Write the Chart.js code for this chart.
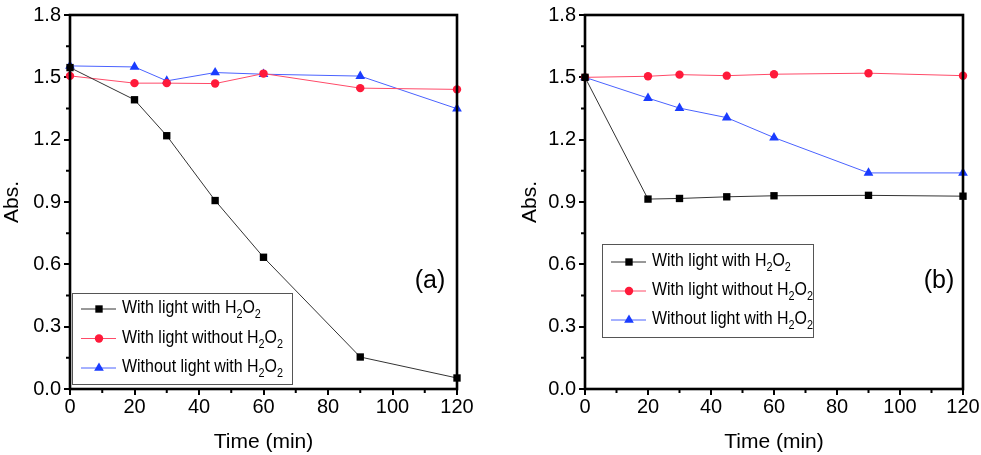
<!DOCTYPE html>
<html>
<head>
<meta charset="utf-8">
<script src="https://cdn.jsdelivr.net/npm/chart.js@4.4.1/dist/chart.umd.min.js"></script>
<style>
  body { margin: 0; background: #fff; }
  #wrap { position: relative; width: 981px; height: 455px; overflow: hidden; }
  canvas { position: absolute; top: 0; }
</style>
</head>
<body>
<div id="wrap">
  <canvas id="chartA" width="490" height="455" style="left:0"></canvas>
  <canvas id="chartB" width="491" height="455" style="left:490px"></canvas>
</div>
<script>
// time points (min)
const times = [0, 20, 30, 45, 60, 90, 120]

// panel (a)
const a_lightH2O2   = [1.547, 1.392, 1.219, 0.907, 0.634, 0.154, 0.053]
const a_lightNoH2O2 = [1.507, 1.472, 1.472, 1.470, 1.518, 1.448, 1.442]
const a_darkH2O2    = [1.555, 1.550, 1.483, 1.523, 1.515, 1.506, 1.349]

// panel (b)
const b_lightH2O2   = [1.500, 0.914, 0.917, 0.925, 0.930, 0.932, 0.928]
const b_lightNoH2O2 = [1.500, 1.505, 1.513, 1.508, 1.515, 1.520, 1.508]
const b_darkH2O2    = [1.500, 1.400, 1.352, 1.306, 1.210, 1.040, 1.040]

const seriesNames = ['With light with H₂O₂', 'With light without H₂O₂', 'Without light with H₂O₂']
const xTicks = [0, 20, 40, 60, 80, 100, 120]
const yTicks = [0, 0.3, 0.6, 0.9, 1.2, 1.5, 1.8]
const xMinor = [10, 30, 50, 70, 90, 110]
const yMinor = [0.15, 0.45, 0.75, 1.05, 1.35, 1.65]

const styles = [
    { line: '#333333', point: '#000000', shape: 'rect', r: 5.2 },
    { line: '#ff4a68', point: '#ff1a3a', shape: 'circle', r: 4.2 },
    { line: '#4a62ff', point: '#1a3cff', shape: 'triangle', r: 5.6 }
]

const FONT = "'Liberation Sans', Arial, sans-serif"

let toXY = (vals) => vals.map((v, i) => ({ x: times[i], y: v }))

// draw a label squeezed sideways, subscript digits small and lowered
const drawSubText = (ctx, text, x, y, size, squeeze) => {
    const subs = { '₂': '2' }
    ctx.save()
    ctx.translate(x, y)
    ctx.scale(squeeze, 1)
    let cx = 0
    for (const ch of text) {
        if (subs[ch]) {
            ctx.font = (size * 0.68) + 'px ' + FONT
            ctx.fillText(subs[ch], cx, size * 0.36)
            cx += ctx.measureText(subs[ch]).width
        } else {
            ctx.font = size + 'px ' + FONT
            ctx.fillText(ch, cx, 0)
            cx += ctx.measureText(ch).width
        }
    }
    ctx.restore()
}

const framePlugin = {
    id: 'frame',
    afterDatasetsDraw(chart, args, opts) {
        const { ctx, chartArea: ca, scales } = chart
        ctx.save()
        ctx.strokeStyle = '#000'
        // minor ticks
        ctx.lineWidth = 2
        ctx.beginPath()
        xMinor.forEach(v => {
            const px = scales.x.getPixelForValue(v)
            ctx.moveTo(px, ca.bottom)
            ctx.lineTo(px, ca.bottom + 4)
        })
        yMinor.forEach(v => {
            const py = scales.y.getPixelForValue(v)
            ctx.moveTo(ca.left, py)
            ctx.lineTo(ca.left - 4, py)
        })
        ctx.stroke()
        // box
        ctx.lineWidth = 2.6
        ctx.strokeRect(ca.left, ca.top, ca.right - ca.left, ca.bottom - ca.top)

        // panel tag
        ctx.fillStyle = '#000'
        ctx.font = '25px ' + FONT
        ctx.textAlign = 'center'
        ctx.textBaseline = 'middle'
        ctx.fillText(opts.tag, opts.tagX, opts.tagY)

        // legend box
        const lg = opts.legend
        ctx.lineWidth = 1
        ctx.strokeStyle = '#555'
        ctx.fillStyle = '#fff'
        ctx.fillRect(lg.x, lg.y, lg.w, lg.h)
        ctx.strokeRect(lg.x + 0.5, lg.y + 0.5, lg.w, lg.h)
        chart.data.datasets.forEach((ds, i) => {
            const cy = lg.y + lg.first + i * lg.step
            ctx.strokeStyle = ds.borderColor
            ctx.lineWidth = 1
            ctx.beginPath()
            ctx.moveTo(lg.x + 9, cy)
            ctx.lineTo(lg.x + 44, cy)
            ctx.stroke()
            ctx.fillStyle = ds.pointBackgroundColor
            Chart.helpers.drawPoint(ctx, { pointStyle: ds.pointStyle, radius: ds.pointRadius, borderWidth: 0 }, lg.x + 27, cy)
            ctx.fillStyle = '#000'
            ctx.textAlign = 'left'
            ctx.textBaseline = 'middle'
            drawSubText(ctx, seriesNames[i], lg.x + 50, cy - 1, 19, 0.84)
        })
        ctx.restore()
    }
}

const makePanel = (canvasId, series, layout) => {
    const ctx = document.getElementById(canvasId).getContext('2d')
    const datasets = series.map((vals, i) => ({
        label: seriesNames[i],
        data: toXY(vals),
        borderColor: styles[i].line,
        borderWidth: 1,
        pointStyle: styles[i].shape,
        pointRadius: styles[i].r,
        pointBackgroundColor: styles[i].point,
        pointBorderWidth: 0,
        clip: false,
        tension: 0
    }))
    return new Chart(ctx, {
        type: 'line',
        data: { datasets: datasets },
        options: {
            responsive: false,
            animation: false,
            events: [],
            layout: { padding: { top: 14, right: layout.padRight, left: layout.padLeft, bottom: 0 } },
            plugins: {
                legend: { display: false },
                tooltip: { enabled: false },
                frame: { tag: layout.tag, tagX: layout.tagX, tagY: layout.tagY, legend: layout.legend }
            },
            scales: {
                x: {
                    type: 'linear',
                    min: 0, max: 120,
                    afterBuildTicks: (s) => { s.ticks = xTicks.map(v => ({ value: v })) },
                    afterFit: (s) => { s.height = 66 },
                    grid: { drawOnChartArea: false, color: '#000', lineWidth: 2, tickLength: 6 },
                    border: { display: false },
                    ticks: { color: '#000', font: { family: FONT, size: 20 }, padding: 0, maxRotation: 0 },
                    title: { display: true, text: 'Time (min)', color: '#000', font: { family: FONT, size: 21 }, padding: { top: 0, bottom: 0 } }
                },
                y: {
                    min: 0, max: 1.8,
                    afterBuildTicks: (s) => { s.ticks = yTicks.map(v => ({ value: v })) },
                    afterFit: (s) => { s.width = layout.yWidth },
                    grid: { drawOnChartArea: false, color: '#000', lineWidth: 2, tickLength: 6 },
                    border: { display: false },
                    ticks: { color: '#000', font: { family: FONT, size: 20 }, padding: 3, callback: v => v.toFixed(1) },
                    title: { display: true, text: 'Abs.', color: '#000', font: { family: FONT, size: 21 }, padding: { top: 0, bottom: 0 } }
                }
            }
        },
        plugins: [framePlugin]
    })
}

makePanel('chartA', [a_lightH2O2, a_lightNoH2O2, a_darkH2O2], {
    padLeft: 0, yWidth: 70, padRight: 33,
    tag: '(a)', tagX: 430, tagY: 281,
    legend: { x: 72, y: 293, w: 220, h: 91, first: 16, step: 29.5 }
})

makePanel('chartB', [b_lightH2O2, b_lightNoH2O2, b_darkH2O2], {
    padLeft: 28, yWidth: 67, padRight: 18,
    tag: '(b)', tagX: 449, tagY: 281,
    legend: { x: 112, y: 244, w: 211, h: 93, first: 18, step: 29 }
})
</script>
</body>
</html>
